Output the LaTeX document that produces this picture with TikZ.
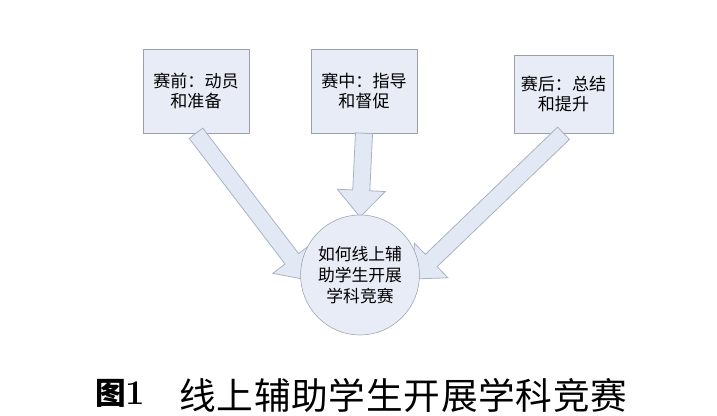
\documentclass[tikz,border=0pt]{standalone}
\usepackage{fontspec}
\newfontfamily\cjk{Noto Sans CJK SC}
\usetikzlibrary{positioning,calc,shapes.geometric}
\definecolor{boxfill}{HTML}{E8ECF6}
\definecolor{boxline}{HTML}{9C9EAA}
\definecolor{arrfill}{HTML}{E2E9F5}
\definecolor{arrline}{HTML}{A9B2C4}

\begin{document}
\begin{tikzpicture}[x=0.75pt,y=-0.75pt,
    stagebox/.style={draw=boxline,fill=boxfill,align=center,
        font=\cjk\fontsize{12.8}{15}\selectfont,inner sep=0pt},
    fatarrow/.style={draw=arrline,fill=arrfill,line width=0.6pt,line join=miter}]
    \useasboundingbox (0,0) rectangle (717,416);
    % three stages
    \node[stagebox,minimum width=79.5pt,minimum height=63pt] (before) at (196,91) {赛前：动员\\和准备};
    \node[stagebox,minimum width=79.5pt,minimum height=63pt] (during) at (364,91) {赛中：指导\\和督促};
    \node[stagebox,minimum width=74.5pt,minimum height=58.5pt] (after) at (563.5,94) {赛后：总结\\和提升};
    % block arrows
    \coordinate (a1) at (before.south);
    \coordinate (a2) at (during.south);
    \coordinate (a3) at (after.south);
    \coordinate (b1) at (308,280);
    \coordinate (b2) at (360,217);
    \coordinate (b3) at (412,279);
    \foreach \i in {1,2,3}{
        \coordinate (h\i) at ($(b\i)!20pt!(a\i)$);
        \draw[fatarrow] ($(a\i)!6.4pt!90:(b\i)$) -- ($(h\i)!6.4pt!90:(b\i)$)
            -- ($(h\i)!18pt!90:(b\i)$) -- (b\i) -- ($(h\i)!18pt!-90:(b\i)$)
            -- ($(h\i)!6.4pt!-90:(b\i)$) -- ($(a\i)!6.4pt!-90:(b\i)$) -- cycle;
    }
    % goal
    \node[ellipse,draw=boxline,fill=boxfill,minimum width=84pt,minimum height=90pt,
        inner sep=0pt,align=center,font=\cjk\fontsize{12.6}{15.8}\selectfont] (goal) at (360,275)
        {如何线上辅\\助学生开展\\学科竞赛};
    % caption
    \node[anchor=west,inner sep=0pt,font=\cjk\bfseries\fontsize{23}{23}\selectfont] (fig) at (95,393) {图\textbf{\rmfamily\fontsize{26}{26}\selectfont 1}};
    \node[anchor=west,inner sep=0pt,font=\cjk\fontsize{27.5}{28}\selectfont] (cap) at (179,395)
        {\addfontfeatures{LetterSpace=2}线上辅助学生开展学科竞赛};
\end{tikzpicture}
\end{document}
